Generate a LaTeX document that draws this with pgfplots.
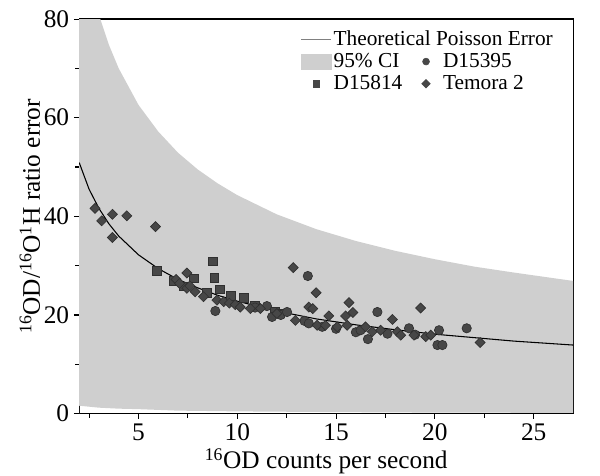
\documentclass[border=0pt]{standalone}
\usepackage{pgfplots}
\pgfplotsset{compat=1.18}
\usepackage{fontspec}
\setmainfont{Liberation Serif}
\definecolor{cigray}{HTML}{CFCFCF}
\definecolor{mk}{HTML}{474747}
\definecolor{mkd}{HTML}{303030}
\pgfplotsset{
  mklegend/.style={legend image code/.code={
    \path[draw=none, fill=none] (0pt,-3pt) (22.5pt,3pt);
    \draw[mark repeat=2,mark phase=2] plot coordinates {(0pt,0pt) (11.25pt,0pt) (22.5pt,0pt)};}},
  linelegend/.style={legend image code/.code={
    \draw[#1] (0pt,0pt) -- (22.5pt,0pt);}},
  arealegend/.style={legend image code/.code={
    \fill[#1] (0pt,-5.5pt) rectangle (22.5pt,5.5pt);}},
}
\begin{document}
\begin{tikzpicture}
\useasboundingbox (-59.4pt,-46.1pt) rectangle (390.6pt,310.2pt);
\begin{axis}[
  scale only axis,
  width=370.5pt, height=295.9pt,
  xmin=2, xmax=27, ymin=0, ymax=80,
  xtick={5,10,15,20,25},
  minor xtick={2.5,7.5,12.5,17.5,22.5},
  ytick={0,20,40,60,80},
  minor ytick={10,30,50,70},
  tick pos=left, tick align=outside,
  major tick length=4pt, minor tick length=3pt,
  axis line style={line width=1pt},
  every tick/.style={line width=0.8pt, black},
  tick label style={font=\fontsize{19}{22}\selectfont},
  label style={font=\fontsize{19}{22}\selectfont},
  /pgf/number format/assume math mode=true,
  xlabel={\textsuperscript{16}OD counts per second},
  ylabel={\textsuperscript{16}OD/\textsuperscript{16}O\textsuperscript{1}H ratio error},
  xlabel style={yshift=1pt},
  ylabel style={yshift=-4pt},
  legend columns=2,
  legend cell align=left,
  legend style={at={(rel axis cs:0.44,1)}, anchor=north west, draw=none, fill=none,
    font=\fontsize{16}{18}\selectfont, yshift=-5pt,
    /tikz/every even column/.append style={column sep=5pt},
    row sep=1.5pt,
    nodes={inner sep=1.5pt}},
]
% 95% CI band
\addplot[fill=cigray, draw=none, forget plot] coordinates {
(2,99.0) (2.5,88.5) (3,80.8) (3.5,74.8) (4,70.0) (5,62.6) (6,57.2) (7,52.9) (8,49.5) (9,46.7) (10,44.3) (12,40.4) (14,37.4) (16,35.0) (18,33.0) (20,31.3) (22,29.8) (24,28.6) (27,26.9)
(27,0.15) (20,0.2) (15,0.3) (10,0.45) (7,0.6) (5,0.9) (4,1.0) (3,1.2) (2,1.6)
} \closedcycle;
% theoretical Poisson error
\addplot[black, line width=0.8pt, forget plot] coordinates {
(2,50.9) (2.5,45.5) (3,41.6) (3.5,38.5) (4,36.0) (5,32.2) (6,29.4) (7,27.2) (8,25.5) (9,24.0) (10,22.8) (12,20.8) (14,19.2) (16,18.0) (18,17.0) (20,16.1) (22,15.4) (24,14.7) (27,13.9)
};
% D15814 squares
\addplot[only marks, mark=square*, mark size=3.2pt, mark options={fill=mk, draw=mkd, line width=0.5pt}, forget plot] coordinates {
(5.93,28.9) (6.77,26.9) (7.30,25.8) (7.79,27.4) (8.77,30.9) (8.84,27.5) (9.11,25.2) (8.46,24.5) (9.68,23.9) (10.32,23.5) (10.90,22.0) (11.90,20.6) (12.18,20.3)
};
% D15395 circles
\addplot[only marks, mark=*, mark size=3.5pt, mark options={fill=mk, draw=mkd, line width=0.5pt}, forget plot] coordinates {
(8.89,20.8) (10.90,21.5) (11.50,21.8) (11.76,19.6) (12.20,20.0) (12.52,20.6) (13.40,18.8) (13.57,27.9) (13.62,18.3) (14.30,17.6) (15.00,17.2) (16.00,16.5) (16.24,16.9) (16.61,15.1) (17.09,20.6) (17.60,16.2) (18.69,17.3) (19.00,16.0) (20.21,16.9) (20.13,13.9) (20.38,13.9) (21.61,17.3)
};
% Temora 2 diamonds
\addplot[only marks, mark=square*, mark size=2.65pt, mark options={rotate=45, fill=mk, draw=mkd, line width=0.5pt}, forget plot] coordinates {
(2.80,41.6) (3.14,39.1) (3.68,40.4) (4.41,40.1) (3.68,35.7) (5.86,37.9) (6.90,27.2) (7.45,28.5) (7.08,26.4) (7.45,25.4) (7.60,25.9) (7.87,24.7) (8.29,23.7) (8.97,23.0) (9.31,22.7) (9.60,22.4) (9.90,22.1) (10.15,21.6) (10.66,21.3) (11.17,21.3) (12.00,20.3) (12.83,29.6) (12.94,18.9) (13.62,21.6) (13.82,21.3) (13.99,24.5) (14.04,17.9) (14.46,17.9) (14.63,19.8) (15.06,17.6) (15.48,19.8) (15.56,17.9) (15.65,22.5) (15.85,20.5) (16.49,17.6) (16.83,16.6) (17.25,16.9) (17.85,19.1) (18.10,16.6) (18.27,15.9) (18.94,15.9) (19.28,21.4) (19.54,15.6) (19.79,15.9) (22.29,14.4)
};
% legend
\addlegendimage{linelegend={gray, line width=0.6pt}}
\addlegendentry{\makebox[0pt][l]{Theoretical Poisson Error}}
\addlegendimage{empty legend}
\addlegendentry{}
\addlegendimage{arealegend={cigray}}
\addlegendentry{95\% CI}
\addlegendimage{only marks, mark=*, mark size=2.6pt, mark options={fill=mk, draw=mk}, mklegend}
\addlegendentry{D15395}
\addlegendimage{only marks, mark=square*, mark size=2.3pt, mark options={fill=mk, draw=mk}, mklegend}
\addlegendentry{D15814}
\addlegendimage{only marks, mark=square*, mark size=2.3pt, mark options={rotate=45, fill=mk, draw=mk}, mklegend}
\addlegendentry{Temora 2}
\end{axis}
\end{tikzpicture}
\end{document}
